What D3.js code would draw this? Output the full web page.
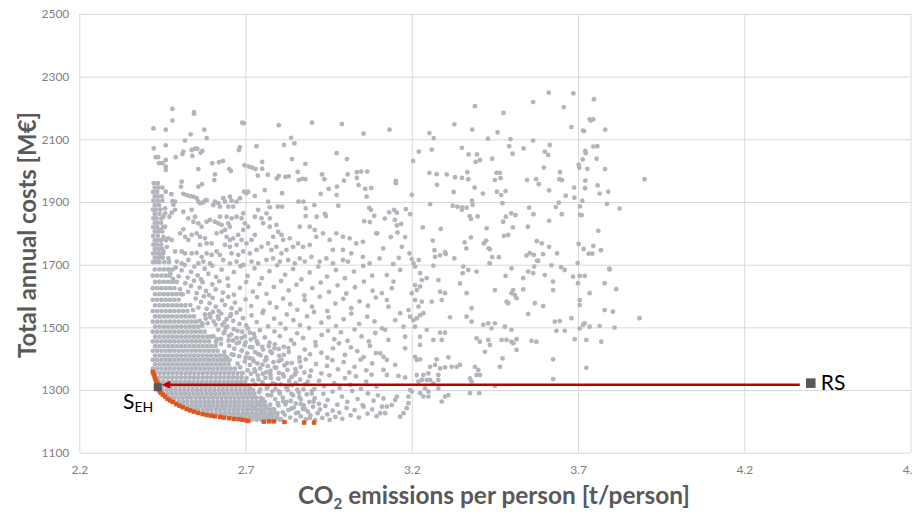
<!DOCTYPE html>
<html>
<head>
<meta charset="utf-8">
<script src="https://cdn.jsdelivr.net/npm/d3@7"></script>
<style>
  html, body { margin: 0; padding: 0; background: #fff; }
  svg { display: block; }
</style>
</head>
<body>
<svg id="chart" width="912" height="512"></svg>
<script>
/* Pareto scatter: total annual costs vs CO2 emissions per person.
   Gray = evaluated system configurations, orange = Pareto front,
   RS = reference system, S_EH = chosen configuration. */

const xTicks = [2.2, 2.7, 3.2, 3.7, 4.2, 4.7];
const yTicks = [1100, 1300, 1500, 1700, 1900, 2100, 2300, 2500];

// sparse part of the cloud, [CO2 t/person, cost M€]
const cloudSparse = [
  [2.48,2197],[2.545,2187],[2.545,2182],[2.48,2160],[2.423,2135],[2.46,2131],[2.535,2116],[2.576,2131],[2.583,2104],[2.518,2096],
  [2.69,2153],[2.695,2151],[2.80,2145],[2.90,2153],[2.99,2149],[3.055,2118],[2.424,2071],[2.46,2081],[2.43,2043],[2.437,2043],
  [2.44,2024],[2.45,2024],[2.46,2034],[2.46,2013],[2.46,2002],[2.49,2043],[2.51,2053],[2.513,2061],[2.538,2066],[2.54,2047],
  [2.548,2070],[2.555,2070],[2.565,2057],[2.57,2063],[2.558,2005],[2.60,2024],[2.62,2027],[2.632,2031],[2.683,2075],[2.68,2066],
  [2.733,2078],[2.816,2082],[2.837,2105],[2.847,2087],[2.84,2037],[2.88,2022],[2.974,2056],[3.005,2037],[2.651,2005],[2.656,1999],
  [2.697,2017],[2.71,2013],[2.72,2010],[2.73,2005],[2.75,2028],[2.75,2006],[2.608,1988],[2.606,1970],[2.767,1987],[2.737,1984],
  [2.794,1975],[2.80,1983],[2.82,1980],[2.83,1982],[2.857,1996],[2.86,1970],[2.87,1974],[2.88,1973],[2.93,1988],[2.937,1973],
  [2.95,1942],[2.975,1949],[2.996,1968],[3.007,1988],[3.035,1995],[3.048,1997],[3.066,1997],[3.035,1977],[3.04,1954],[3.06,1942],
  [3.078,1945],[3.064,1917],[2.508,1965],[2.506,1949],[2.569,1957],[2.558,1949],[2.46,1933],[2.477,1925],[2.48,1903],[2.488,1901],
  [2.608,1901],[2.618,1896],[2.633,1912],[2.653,1917],[2.658,1904],[2.696,1933],[2.703,1928],[2.708,1933],[2.728,1919],[2.758,1938],
  [2.768,1901],[2.773,1883],[2.81,1928],[2.797,1885],[2.81,1885],[2.859,1901],[2.874,1901],[2.881,1880],[2.881,1855],[2.907,1890],
  [2.914,1853],[2.939,1862],[2.942,1855],[2.979,1888],[2.926,1926],[2.974,1922],[3.072,1881],[3.077,1875],[3.087,1856],
  [3.057,1839],[3.074,1836],[3.096,1800],
  [2.513,1926],[2.523,1922],[2.533,1919],[2.543,1917],[2.553,1912],[2.558,1901],[2.563,1896],[2.571,1898],[2.578,1904],[2.583,1906],
  [2.458,1880],[2.458,1864],[2.471,1853],[2.478,1866],[2.488,1875],[2.483,1891],[2.513,1869],[2.538,1875],[2.548,1853],[2.528,1848],
  [2.543,1837],[2.558,1832],[2.568,1821],[2.583,1837],[2.593,1843],[2.608,1837],[2.618,1832],[2.628,1827],[2.648,1832],[2.653,1821],
  [2.513,1813],[2.503,1800],[2.518,1789],[2.528,1779],[2.538,1795],[2.553,1800],[2.563,1789],[2.578,1784],[2.563,1763],[2.583,1768],
  [2.598,1768],[2.453,1853],[2.458,1821],[2.443,1811],[2.453,1789],[2.468,1784],[2.478,1779],[2.463,1757],[2.453,1742],[2.443,1725],
  [2.488,1742],[2.508,1742],[2.518,1736],[2.538,1736],[2.553,1738],[2.568,1725],[2.583,1736],[2.598,1731],[2.613,1742],[2.623,1731],
  [2.468,1720],[2.493,1710],[2.508,1704],[2.528,1715],[2.558,1704],[2.573,1710],[2.593,1704],[2.613,1800],[2.628,1805],[2.638,1811],
  [2.643,1789],[2.653,1779],[2.663,1784],[2.678,1795],[2.603,1890],[2.623,1885],[2.638,1901],[2.648,1885],[2.663,1885],[2.673,1901],
  [2.683,1912],[2.623,1853],[2.643,1853],[2.658,1848],[2.673,1853],[2.693,1864],[2.688,1848],[2.698,1832],[2.708,1821],[2.693,1811],
  [2.688,1779],[2.703,1768],[2.718,1779],[2.728,1795],[2.638,1763],[2.653,1757],[2.673,1763],[2.658,1736],[2.678,1731],[2.693,1742],
  [2.713,1736],[2.733,1747],[2.748,1757],[2.633,1715],[2.653,1704],[2.673,1710],[2.693,1699],[2.718,1710],[2.738,1704],[2.763,1715],
  [2.738,1875],[2.728,1853],[2.748,1848],[2.763,1864],[2.773,1848],[2.753,1832],[2.773,1821],[2.793,1827],[2.798,1805],[2.808,1795],
  [2.783,1789],[2.813,1779],[2.833,1784],[2.768,1768],[2.778,1747],[2.793,1757],[2.808,1736],[2.823,1747],[2.843,1757],[2.858,1768],
  [2.873,1757],[2.893,1763],[2.783,1720],[2.803,1710],[2.828,1715],[2.848,1704],[2.863,1720],[2.878,1710],[2.898,1725],[2.923,1710],
  [2.943,1720],[2.963,1704],[2.993,1715],[3.008,1710],[3.053,1725],[3.073,1704],[3.103,1720],[2.863,1821],[2.893,1821],[2.908,1811],
  [2.913,1789],[2.933,1800],[2.953,1779],[2.973,1800],[2.993,1789],[3.013,1784],[3.033,1768],[2.963,1747],[2.993,1747],[3.018,1736],
  [3.053,1773],[3.093,1800],
  [3.612,2249],[3.686,2247],[3.748,2228],[3.565,2219],[3.39,2206],[3.657,2203],[3.476,2184],[3.735,2164],[3.738,2160],[3.746,2164],
  [3.68,2139],[3.715,2128],[3.718,2126],[3.782,2131],[3.133,2131],[3.328,2148],[3.382,2131],[3.458,2122],[3.565,2096],[3.253,2120],
  [3.266,2104],[3.429,2102],[3.497,2101],[3.493,2078],[3.503,2054],[3.536,2071],[3.615,2082],[3.60,2061],[3.61,2050],[3.351,2073],
  [3.371,2052],[3.396,2052],[3.405,2034],[3.392,2028],[3.442,2038],[3.221,2061],[3.26,2067],[3.204,2031],[3.723,2056],[3.756,2038],
  [3.746,2077],[3.758,2078],[3.722,2063],[3.714,2036],[3.702,2019],[3.704,2009],[3.728,2006],[3.781,2005],[3.597,2010],[3.646,1995],
  [3.652,1970],[3.644,1973],[3.547,1970],[3.574,1973],[3.582,1957],[3.613,1937],[3.688,1946],[3.689,1914],[3.713,1904],[3.722,1968],
  [3.721,1944],[3.759,1953],[3.765,1927],[3.791,1933],[3.787,1894],[3.825,1879],[3.663,1920],[3.633,1884],[3.642,1898],[3.651,1861],
  [3.706,1886],[3.706,1859],[3.711,1858],[3.613,1840],[3.549,1821],[3.553,1882],[3.566,1861],[3.576,1775],[3.591,1768],[3.613,1757],
  [3.637,1736],[3.545,1729],[3.555,1737],[3.567,1731],[3.577,1713],[3.595,1734],[3.62,1698],[3.702,1766],[3.717,1750],[3.732,1735],
  [3.743,1735],[3.746,1760],[3.769,1746],[3.761,1808],[3.794,1687],[3.699,1705],[3.649,1692],[3.90,1973],
  [3.152,1967],[3.152,1960],[3.20,1923],[3.255,1893],[3.182,1877],[3.195,1861],[3.119,1847],[3.132,1867],[3.147,1875],[3.155,1866],
  [3.149,1843],[3.168,1830],[3.155,1825],[3.157,1803],[3.18,1788],[3.137,1788],[3.114,1752],[3.144,1702],[3.161,1722],[3.17,1757],
  [3.193,1736],[3.20,1718],[3.221,1715],[3.233,1819],[3.287,1814],[3.263,1777],[3.268,1746],[3.27,1725],[3.285,1730],[3.30,1740],
  [3.302,1734],[3.328,1720],[3.359,1771],[3.364,1752],[3.378,1787],[3.326,1932],[3.323,1888],[3.337,1885],[3.351,1883],[3.351,1875],
  [3.365,1882],[3.381,1904],[3.383,1891],[3.374,1855],[3.378,1846],[3.398,1854],[3.389,1946],[3.414,1927],[3.367,1995],[3.37,1973],
  [3.33,1979],[3.351,1977],[3.305,1988],[3.275,1989],[3.276,1955],[3.253,1993],[3.45,1970],[3.455,1993],[3.465,1993],[3.467,1976],
  [3.456,1933],[3.469,1922],[3.482,1935],[3.473,1896],[3.475,1837],[3.483,1853],[3.477,1792],[3.49,1795],[3.504,1819],[3.499,1864],
  [3.512,1858],[3.425,1816],[3.417,1768],[3.424,1777],[3.431,1752],[3.435,1749],[3.442,1724],[3.462,1724],[3.434,1704],
  [3.145,1702],[3.165,1683],[3.125,1667],[3.145,1646],[3.14,1625],[3.11,1609],[3.125,1587],[3.13,1566],[3.165,1545],[3.15,1523],
  [3.11,1497],[3.12,1492],[3.13,1460],[3.175,1502],[3.18,1470],[3.18,1433],[3.105,1417],[3.115,1406],[3.125,1396],[3.15,1380],
  [3.115,1364],[3.125,1348],[3.16,1345],[3.18,1340],[3.115,1273],[3.11,1247],[3.125,1247],[3.14,1252],[3.15,1268],[3.155,1279],
  [3.105,1226],[3.12,1226],[3.165,1215],[3.175,1226],[3.185,1242],[3.19,1258],[3.19,1279],[3.20,1295],[3.19,1555],[3.195,1534],
  [3.205,1523],[3.215,1529],[3.225,1539],[3.235,1545],[3.22,1566],[3.23,1582],[3.21,1587],[3.20,1609],[3.215,1619],[3.225,1630],
  [3.21,1635],[3.23,1651],[3.205,1704],[3.21,1694],[3.265,1697],[3.225,1673],[3.245,1657],[3.28,1651],[3.285,1614],[3.30,1609],
  [3.26,1582],[3.29,1587],[3.315,1532],[3.345,1640],[3.355,1694],[3.353,1673],[3.37,1683],[3.395,1678],[3.365,1609],[3.38,1561],
  [3.365,1534],[3.38,1518],[3.415,1508],[3.43,1513],[3.45,1513],[3.45,1619],[3.435,1704],[3.21,1502],[3.225,1470],[3.225,1444],
  [3.245,1492],[3.265,1460],[3.285,1483],[3.29,1460],[3.30,1483],[3.21,1406],[3.225,1398],[3.215,1396],[3.275,1398],[3.31,1404],
  [3.255,1374],[3.27,1380],[3.285,1369],[3.30,1372],[3.32,1374],[3.335,1374],[3.345,1380],[3.25,1353],[3.235,1348],[3.23,1332],
  [3.245,1332],[3.255,1332],[3.265,1321],[3.28,1332],[3.28,1348],[3.215,1348],[3.22,1327],[3.195,1300],[3.225,1290],[3.24,1305],
  [3.25,1295],[3.235,1279],[3.25,1279],[3.28,1305],[3.29,1263],[3.30,1279],[3.31,1284],[3.375,1337],[3.38,1327],[3.395,1348],
  [3.405,1348],[3.39,1374],[3.40,1364],[3.375,1290],[3.403,1290],[3.45,1313],[3.395,1465],[3.405,1454],[3.42,1422],[3.435,1444],
  [3.43,1460],[3.465,1374],[3.473,1401],[3.47,1460],[3.485,1460],[3.50,1454],[3.505,1449],[3.515,1462],[3.515,1428],[3.56,1457],
  [3.575,1454],[3.44,1497],[3.48,1502],[3.50,1492],[3.49,1577],[3.485,1582],[3.50,1609],[3.51,1603],[3.515,1593],[3.505,1619],
  [3.535,1621],[3.57,1577],[3.595,1568],[3.55,1543],[3.482,1664],[3.50,1688],[3.535,1657],[3.55,1678],[3.565,1673],[3.568,1694],
  [3.58,1712],[3.60,1667],[3.625,1646],[3.625,1619],[3.63,1518],[3.645,1520],[3.66,1489],[3.635,1489],[3.68,1529],[3.625,1398],
  [3.625,1335],[3.66,1683],[3.685,1662],[3.705,1664],[3.72,1664],[3.70,1641],[3.705,1587],[3.705,1571],[3.735,1609],[3.78,1641],
  [3.795,1685],[3.815,1622],[3.705,1497],[3.715,1508],[3.72,1513],[3.735,1502],[3.765,1504],[3.81,1499],[3.78,1555],[3.805,1550],
  [3.69,1462],[3.725,1460],[3.77,1454],[3.725,1371],[3.885,1529]
];

// middle of the cloud, right of the solid core, [CO2 t/person, cost M€]
const cloudMid = [
  [2.806,1207],[2.818,1221],[2.829,1236],[2.834,1212],[2.845,1244],[2.851,1203],[2.858,1228],[2.866,1216],[2.872,1240],[2.881,1206],
  [2.888,1231],[2.895,1219],[2.903,1247],[2.909,1204],[2.917,1226],[2.924,1238],[2.931,1211],[2.94,1249],[2.946,1222],[2.953,1205],
  [2.962,1234],[2.97,1214],[2.982,1228],[2.991,1208],[3.004,1243],[3.016,1219],[3.028,1236],[3.041,1212],[3.055,1247],[3.067,1225],
  [3.081,1238],[3.094,1216],
  [2.758,1262],[2.766,1284],[2.774,1253],[2.781,1296],[2.789,1271],[2.797,1258],[2.803,1289],[2.812,1276],[2.82,1254],[2.827,1299],
  [2.836,1265],[2.843,1283],[2.851,1257],[2.86,1292],[2.866,1270],[2.875,1251],[2.884,1286],[2.892,1262],[2.9,1297],[2.908,1274],
  [2.921,1256],[2.934,1288],[2.947,1268],[2.962,1295],[2.976,1253],[2.99,1279],[3.006,1262],[3.021,1297],[3.037,1271],[3.052,1252],
  [3.068,1289],[3.085,1266],[3.098,1283],
  [2.714,1305],[2.722,1331],[2.729,1317],[2.737,1346],[2.744,1302],[2.751,1325],[2.76,1339],[2.767,1311],[2.775,1348],[2.782,1322],
  [2.79,1304],[2.799,1336],[2.806,1318],[2.815,1343],[2.822,1308],[2.831,1329],[2.84,1315],[2.848,1349],[2.856,1301],[2.864,1333],
  [2.879,1318],[2.893,1344],[2.907,1303],[2.921,1329],[2.936,1312],[2.952,1347],[2.967,1322],[2.983,1306],[2.999,1338],[3.015,1316],
  [3.032,1344],[3.047,1304],[3.063,1327],[3.079,1349],[3.094,1311],
  [2.684,1372],[2.691,1354],[2.698,1391],[2.706,1363],[2.713,1380],[2.721,1399],[2.729,1358],[2.736,1385],[2.744,1369],[2.752,1352],
  [2.759,1394],[2.767,1376],[2.775,1361],[2.784,1389],[2.792,1371],[2.8,1355],[2.808,1397],[2.817,1379],[2.826,1364],
  [2.839,1386],[2.852,1357],[2.866,1374],[2.881,1398],[2.897,1362],[2.912,1383],[2.928,1353],[2.945,1377],[2.961,1395],[2.978,1366],
  [2.995,1389],[3.012,1356],[3.028,1374],[3.046,1397],[3.063,1363],[3.081,1385],
  [2.636,1422],[2.643,1405],[2.651,1441],[2.658,1414],[2.666,1432],[2.674,1449],[2.681,1408],[2.689,1426],[2.697,1443],[2.705,1417],
  [2.712,1402],[2.72,1436],[2.729,1421],[2.737,1447],[2.745,1411],[2.753,1429],[2.762,1404],[2.77,1440],[2.779,1418],[2.787,1433],
  [2.801,1409],[2.815,1438],[2.83,1421],[2.846,1447],[2.862,1404],[2.878,1429],[2.894,1414],[2.911,1442],[2.928,1419],[2.946,1403],
  [2.963,1433],[2.981,1449],[2.999,1412],[3.017,1436],[3.036,1424],[3.055,1405],[3.074,1441],[3.092,1418],
  [2.603,1471],[2.611,1454],[2.618,1492],[2.626,1463],[2.634,1481],[2.641,1499],[2.649,1458],[2.657,1477],[2.665,1494],[2.673,1466],
  [2.681,1452],[2.69,1486],[2.698,1471],[2.707,1497],[2.716,1461],[2.725,1479],[2.734,1455],[2.743,1491],
  [2.758,1468],[2.772,1451],[2.787,1487],[2.803,1472],[2.82,1496],[2.837,1459],[2.855,1481],[2.873,1466],[2.891,1498],[2.91,1453],
  [2.929,1476],[2.948,1489],[2.967,1462],[2.987,1484],[3.007,1457],[3.028,1493],[3.049,1471],[3.071,1455],[3.09,1482],
  [2.562,1521],[2.57,1505],[2.578,1541],[2.586,1513],[2.594,1532],[2.602,1549],[2.61,1509],[2.619,1527],[2.627,1544],[2.636,1516],
  [2.645,1502],[2.654,1536],[2.663,1521],[2.673,1547],[2.682,1511],[2.692,1529],[2.702,1506],
  [2.718,1538],[2.734,1517],[2.751,1546],[2.768,1503],[2.786,1528],[2.805,1512],[2.824,1541],[2.844,1523],[2.864,1507],[2.885,1535],
  [2.906,1549],[2.928,1515],[2.95,1532],[2.972,1504],[2.995,1526],[3.018,1544],[3.042,1511],[3.066,1534],[3.088,1519],
  [2.534,1571],[2.542,1555],[2.55,1592],[2.558,1563],[2.566,1581],[2.575,1599],[2.583,1559],[2.592,1577],[2.601,1594],[2.61,1566],
  [2.619,1552],[2.629,1586],[2.638,1571],[2.648,1597],[2.658,1561],[2.668,1579],
  [2.684,1557],[2.7,1589],[2.717,1568],[2.735,1596],[2.754,1553],[2.773,1578],[2.793,1564],[2.813,1592],[2.834,1574],[2.856,1556],
  [2.878,1587],[2.9,1566],[2.923,1598],[2.946,1552],[2.97,1576],[2.994,1591],[3.018,1561],[3.043,1583],[3.068,1569],[3.092,1595],
  [2.503,1622],[2.511,1605],[2.519,1641],[2.527,1613],[2.536,1632],[2.545,1649],[2.553,1609],[2.562,1627],[2.571,1644],[2.581,1616],
  [2.59,1603],[2.6,1637],[2.61,1621],[2.621,1647],[2.632,1611],
  [2.648,1633],[2.665,1604],[2.683,1626],[2.702,1645],[2.722,1614],[2.742,1638],[2.763,1607],[2.785,1629],[2.807,1648],[2.83,1618],
  [2.853,1636],[2.877,1602],[2.901,1625],[2.926,1643],[2.951,1613],[2.977,1634],[3.003,1608],[3.029,1628],[3.056,1646],[3.082,1617],
  [2.474,1672],[2.482,1655],[2.49,1691],[2.499,1663],[2.508,1682],[2.517,1699],[2.526,1659],[2.536,1677],[2.546,1694],[2.556,1666],
  [2.566,1653],[2.577,1687],[2.588,1671],[2.6,1697],[2.612,1661],
  [2.628,1684],[2.646,1656],[2.665,1676],[2.685,1695],[2.706,1664],[2.727,1688],[2.749,1657],[2.772,1679],[2.795,1698],[2.819,1668],
  [2.843,1686],[2.868,1653],[2.893,1675],[2.919,1694],[2.945,1662],[2.972,1683],[2.999,1657],[3.026,1678],[3.054,1696],[3.081,1665],
  // denser speckle just right of the core
  [2.724,1244],[2.735,1258],[2.748,1231],[2.761,1247],[2.773,1222],[2.786,1238],[2.799,1251],[2.812,1229],[2.823,1262],[2.838,1241],
  [2.852,1226],[2.866,1255],[2.879,1238],[2.893,1211],[2.905,1263],
  [2.728,1279],[2.741,1293],[2.752,1271],[2.764,1306],[2.777,1283],[2.79,1318],[2.801,1296],[2.813,1264],[2.826,1311],[2.838,1288],
  [2.851,1322],[2.862,1277],[2.874,1302],[2.887,1327],[2.899,1289],
  [2.703,1338],[2.716,1352],[2.727,1366],[2.739,1333],[2.751,1381],[2.763,1357],[2.776,1338],[2.788,1372],[2.8,1392],[2.812,1351],
  [2.825,1386],[2.838,1341],[2.85,1367],[2.863,1391],[2.877,1356],
  [2.652,1396],[2.664,1412],[2.676,1384],[2.688,1426],[2.7,1403],[2.713,1437],[2.725,1392],[2.738,1415],[2.75,1438],[2.763,1398],
  [2.775,1423],[2.788,1446],[2.8,1431],[2.815,1412],[2.829,1434],
  [2.614,1462],[2.626,1447],[2.637,1486],[2.65,1473],[2.662,1458],[2.676,1489],[2.688,1466],[2.7,1452],[2.713,1483],[2.727,1468],
  [2.57,1513],[2.58,1528],[2.592,1542],[2.604,1519],[2.617,1535],[2.63,1508],[2.643,1526],[2.656,1542]
];

// solid core of the cloud, one row per cost level: [cost, CO2, CO2, ...]
const cloudRows = [
  [1960, 2.424, 2.436],
  [1946, 2.427, 2.438, 2.45],
  [1932, 2.422, 2.434],
  [1918, 2.427, 2.437, 2.448],
  [1904, 2.423, 2.436, 2.45],
  [1890, 2.427, 2.44],
  [1876, 2.422, 2.431, 2.444],
  [1862, 2.427, 2.441],
  [1848, 2.423, 2.432, 2.447],
  [1834, 2.427, 2.436, 2.446],
  [1820, 2.422, 2.434, 2.452],
  [1806, 2.427, 2.437, 2.449],
  [1792, 2.422, 2.436],
  [1778, 2.427, 2.436, 2.447, 2.461],
  [1764, 2.423, 2.434, 2.446],
  [1750, 2.427, 2.438, 2.449],
  [1736, 2.422, 2.431, 2.44, 2.452],
  [1722, 2.427, 2.439, 2.451],
  [1708, 2.422, 2.43, 2.441, 2.456, 2.47],
  [1685, 2.427, 2.441, 2.454, 2.467, 2.48],
  [1665, 2.421, 2.434, 2.447, 2.46, 2.472],
  [1645, 2.428, 2.441, 2.454, 2.467, 2.48, 2.493],
  [1625, 2.421, 2.434, 2.447, 2.46, 2.473, 2.486],
  [1606, 2.428, 2.441, 2.454, 2.467, 2.48, 2.493, 2.506],
  [1588, 2.421, 2.434, 2.447, 2.46, 2.473, 2.486, 2.499],
  [1570, 2.428, 2.441, 2.454, 2.467, 2.48, 2.493, 2.506, 2.519],
  [1552, 2.421, 2.434, 2.447, 2.46, 2.473, 2.486, 2.499, 2.512, 2.525],
  [1535, 2.428, 2.441, 2.454, 2.467, 2.48, 2.493, 2.506, 2.519, 2.532, 2.545],
  [1518, 2.421, 2.434, 2.447, 2.46, 2.473, 2.486, 2.499, 2.512, 2.525, 2.538, 2.551],
  [1502, 2.428, 2.441, 2.454, 2.467, 2.48, 2.493, 2.506, 2.519, 2.532, 2.545, 2.558],
  [1486, 2.421, 2.434, 2.447, 2.46, 2.473, 2.486, 2.499, 2.512, 2.525, 2.538, 2.551, 2.564, 2.577],
  [1470, 2.428, 2.441, 2.454, 2.467, 2.48, 2.493, 2.506, 2.519, 2.532, 2.545, 2.558, 2.571, 2.584, 2.596],
  [1455, 2.421, 2.434, 2.447, 2.46, 2.473, 2.486, 2.499, 2.512, 2.525, 2.538, 2.551, 2.564, 2.577, 2.59],
  [1440, 2.428, 2.441, 2.454, 2.467, 2.48, 2.493, 2.506, 2.519, 2.532, 2.545, 2.558, 2.571, 2.584, 2.597, 2.61],
  [1425, 2.421, 2.434, 2.447, 2.46, 2.473, 2.486, 2.499, 2.512, 2.525, 2.538, 2.551, 2.564, 2.577, 2.59, 2.603, 2.616],
  [1410, 2.428, 2.441, 2.454, 2.467, 2.48, 2.493, 2.506, 2.519, 2.532, 2.545, 2.558, 2.571, 2.584, 2.597, 2.61, 2.623, 2.636],
  [1396, 2.421, 2.434, 2.447, 2.46, 2.473, 2.486, 2.499, 2.512, 2.525, 2.538, 2.551, 2.564, 2.577, 2.59, 2.603, 2.616, 2.629, 2.641],
  [1382, 2.428, 2.441, 2.454, 2.467, 2.48, 2.493, 2.506, 2.519, 2.532, 2.545, 2.558, 2.571, 2.584, 2.597, 2.61, 2.623, 2.636, 2.649],
  [1368, 2.421, 2.434, 2.447, 2.46, 2.473, 2.486, 2.499, 2.512, 2.525, 2.538, 2.551, 2.564, 2.577, 2.59, 2.603, 2.616, 2.629, 2.642, 2.655, 2.668],
  [1354, 2.429, 2.442, 2.455, 2.468, 2.481, 2.494, 2.507, 2.52, 2.533, 2.546, 2.559, 2.572, 2.585, 2.598, 2.611, 2.624, 2.637, 2.65, 2.663, 2.676, 2.689],
  [1340, 2.428, 2.441, 2.454, 2.467, 2.48, 2.493, 2.506, 2.519, 2.532, 2.545, 2.558, 2.571, 2.584, 2.597, 2.61, 2.623, 2.636, 2.649, 2.662, 2.675, 2.688],
  [1326, 2.439, 2.452, 2.465, 2.478, 2.491, 2.504, 2.517, 2.53, 2.543, 2.556, 2.569, 2.582, 2.595, 2.608, 2.621, 2.634, 2.647, 2.66, 2.673, 2.686, 2.699],
  [1313, 2.438, 2.451, 2.464, 2.477, 2.49, 2.503, 2.516, 2.529, 2.542, 2.555, 2.568, 2.581, 2.594, 2.607, 2.62, 2.633, 2.646, 2.659, 2.672, 2.685, 2.698, 2.711],
  [1300, 2.45, 2.463, 2.476, 2.489, 2.502, 2.515, 2.528, 2.541, 2.554, 2.567, 2.58, 2.593, 2.606, 2.619, 2.632, 2.645, 2.658, 2.671, 2.684, 2.697, 2.71, 2.723],
  [1288, 2.453, 2.466, 2.479, 2.492, 2.505, 2.518, 2.531, 2.544, 2.557, 2.57, 2.583, 2.596, 2.609, 2.622, 2.635, 2.648, 2.661, 2.674, 2.687, 2.7, 2.713, 2.726],
  [1275, 2.472, 2.485, 2.498, 2.511, 2.524, 2.537, 2.55, 2.563, 2.576, 2.589, 2.602, 2.615, 2.628, 2.641, 2.654, 2.667, 2.68, 2.693, 2.706, 2.719, 2.732, 2.745],
  [1262, 2.486, 2.499, 2.512, 2.525, 2.538, 2.551, 2.564, 2.577, 2.59, 2.603, 2.616, 2.629, 2.642, 2.655, 2.668, 2.681, 2.694, 2.707, 2.72, 2.733, 2.746],
  [1250, 2.512, 2.525, 2.538, 2.551, 2.564, 2.577, 2.59, 2.603, 2.616, 2.629, 2.642, 2.655, 2.668, 2.681, 2.694, 2.707, 2.72, 2.733, 2.746, 2.759],
  [1238, 2.531, 2.544, 2.557, 2.571, 2.584, 2.597, 2.611, 2.624, 2.637, 2.651, 2.664, 2.677, 2.691, 2.704, 2.717, 2.731, 2.744, 2.757, 2.771, 2.783],
  [1226, 2.572, 2.585, 2.598, 2.612, 2.625, 2.639, 2.652, 2.666, 2.679, 2.693, 2.706, 2.72, 2.733, 2.747, 2.76, 2.774, 2.787, 2.796],
  [1215, 2.632, 2.645, 2.659, 2.672, 2.686, 2.7, 2.713, 2.727, 2.74, 2.754, 2.768, 2.781, 2.795],
  [1205, 2.718, 2.733, 2.747, 2.762, 2.776, 2.79, 2.804]
];

// Pareto front, [CO2 t/person, cost M€]
const paretoFront = [
  [2.421,1358],[2.423,1353],[2.426,1345],[2.428,1337],[2.431,1329],[2.435,1321],[2.441,1298],[2.445,1291],
  [2.451,1285],[2.458,1279],[2.465,1272],[2.473,1267],[2.481,1262],[2.491,1255],[2.501,1250],[2.511,1245],
  [2.523,1239],[2.533,1235],[2.545,1231],[2.558,1227],[2.571,1223],[2.583,1220],[2.596,1218],[2.608,1216],
  [2.623,1214],[2.635,1212],[2.651,1210],[2.665,1208],[2.679,1207],[2.691,1205],[2.703,1203],[2.708,1201],
  [2.755,1199],[2.771,1200],[2.785,1200],[2.817,1198],[2.876,1196],[2.906,1196]
];

const refSystem = [4.40, 1322];     // RS
const chosenSystem = [2.436, 1309]; // S_EH
const arrowCost = 1317;
const arrowFrom = 4.367, arrowTo = 2.448;

const svg = d3.select("#chart");
const x = d3.scaleLinear().domain([2.2, 4.7]).range([79.3, 910.5]);
const y = d3.scaleLinear().domain([1100, 2500]).range([452.7, 14]);

const gridColor = "#d9d9d9";
const tickFont = "Lato, 'Open Sans', sans-serif";

// grid
svg.append("g")
  .attr("transform", `translate(${x(2.2)},0)`)
  .call(d3.axisLeft(y).tickValues(yTicks).tickSize(-(x(4.7) - x(2.2))).tickFormat(""))
  .call(g => g.select(".domain").remove())
  .call(g => g.selectAll("line").attr("stroke", gridColor).attr("stroke-width", 1));
svg.append("g")
  .attr("transform", `translate(0,${y(1100)})`)
  .call(d3.axisBottom(x).tickValues(xTicks).tickSize(-(y(1100) - y(2500))).tickFormat(""))
  .call(g => g.select(".domain").remove())
  .call(g => g.selectAll("line").attr("stroke", gridColor).attr("stroke-width", 1));

// tick labels
svg.append("g")
  .attr("transform", `translate(${x(2.2)},0)`)
  .call(d3.axisLeft(y).tickValues(yTicks).tickSize(0).tickPadding(10).tickFormat(d3.format("d")))
  .call(g => g.select(".domain").remove())
  .call(g => g.selectAll("text").attr("fill", "#7f7f7f").style("font", `12px ${tickFont}`));
svg.append("g")
  .attr("transform", `translate(0,${y(1100)})`)
  .call(d3.axisBottom(x).tickValues(xTicks).tickSize(0).tickPadding(13).tickFormat(d3.format(".1f")))
  .call(g => g.select(".domain").remove())
  .call(g => g.selectAll("text").attr("fill", "#7f7f7f").style("font", `12px ${tickFont}`));

// cloud
const cloud = cloudSparse.concat(
  cloudMid,
  cloudRows.flatMap(([cost, ...co2]) => co2.map(c => [c, cost]))
);
svg.append("g").attr("class", "cloud")
  .selectAll("circle")
  .data(cloud)
  .join("circle")
    .attr("cx", d => x(d[0]))
    .attr("cy", d => y(d[1]))
    .attr("r", 2.4)
    .attr("fill", "#b2b5bc");

// pareto front
svg.append("g").attr("class", "pareto")
  .selectAll("rect")
  .data(paretoFront)
  .join("rect")
    .attr("x", d => x(d[0]) - 2.2)
    .attr("y", d => y(d[1]) - 2.2)
    .attr("width", 4.4)
    .attr("height", 4.4)
    .attr("fill", "#e0571d");

// S_EH marker
svg.append("rect")
  .attr("x", x(chosenSystem[0]) - 4)
  .attr("y", y(chosenSystem[1]) - 4)
  .attr("width", 8).attr("height", 8)
  .attr("fill", "#595959");

// arrow RS -> S_EH
const ay = y(arrowCost);
svg.append("line")
  .attr("x1", x(arrowFrom)).attr("x2", x(arrowTo) + 7)
  .attr("y1", ay).attr("y2", ay)
  .attr("stroke", "#c00000").attr("stroke-width", 2.4);
svg.append("path")
  .attr("d", `M${x(arrowTo)},${ay} L${x(arrowTo) + 8.5},${ay - 4} L${x(arrowTo) + 8.5},${ay + 4} Z`)
  .attr("fill", "#c00000");

// RS marker
svg.append("rect")
  .attr("x", x(refSystem[0]) - 4.8)
  .attr("y", y(refSystem[1]) - 4.8)
  .attr("width", 9.6).attr("height", 9.6)
  .attr("fill", "#595959");

svg.append("text")
  .attr("x", x(refSystem[0]) + 10)
  .attr("y", y(refSystem[1]) + 7)
  .style("font", "21px Lato, sans-serif")
  .attr("fill", "#000")
  .text("RS");

const seh = svg.append("text")
  .attr("x", 123)
  .attr("y", 409)
  .style("font", "21px Lato, sans-serif")
  .attr("fill", "#000");
seh.append("tspan").text("S");
seh.append("tspan").attr("dy", 3).style("font-size", "14px").text("EH");

// axis titles, sized to the reference widths
function fitText(sel, target) {
  const len = sel.node().getComputedTextLength();
  const fs = parseFloat(sel.style("font-size"));
  sel.style("font-size", (fs * target / len).toFixed(2) + "px");
}

const yTitle = svg.append("text")
  .attr("transform", "translate(36,235) rotate(-90)")
  .attr("text-anchor", "middle")
  .attr("fill", "#595959")
  .style("font-family", "Lato, sans-serif")
  .style("font-weight", "bold")
  .style("font-size", "24px")
  .text("Total annual costs [M€]");
fitText(yTitle, 246);

const xTitle = svg.append("text")
  .attr("x", 494)
  .attr("y", 504)
  .attr("text-anchor", "middle")
  .attr("fill", "#595959")
  .style("font-family", "Lato, sans-serif")
  .style("font-weight", "bold")
  .style("font-size", "24px");
xTitle.append("tspan").text("CO");
xTitle.append("tspan").attr("dy", 5).style("font-size", "0.62em").text("2");
xTitle.append("tspan").attr("dy", -5).text(" emissions per person [t/person]");
fitText(xTitle, 392);
</script>
</body>
</html>
